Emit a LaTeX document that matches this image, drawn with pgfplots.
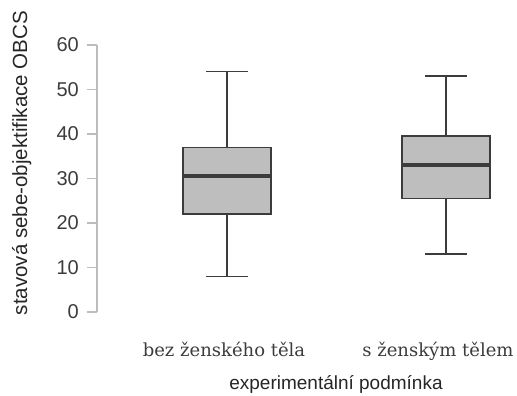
\documentclass[border=0pt]{standalone}
\usepackage{pgfplots}
\pgfplotsset{compat=1.18}
\usepgfplotslibrary{statistics}
\usepackage{fontspec}
\setmainfont{Liberation Sans}
\newfontfamily\labelserif{DejaVu Serif}

\definecolor{boxfill}{HTML}{BEBEBE}
\definecolor{boxedge}{HTML}{3C3C3C}
\definecolor{axisgray}{HTML}{BDBDBD}
\definecolor{ticktext}{HTML}{3C3C3C}

\begin{document}
\begin{tikzpicture}
\begin{axis}[
  at={(97pt,84pt)}, anchor=south west,
  scale only axis,
  width=420pt, height=267pt,
  xmin=0.406, xmax=2.324,
  ymin=0, ymax=60,
  axis y line*=left,
  axis x line*=bottom,
  axis line style={-},
  x axis line style={draw=none},
  y axis line style={draw=axisgray, line width=1.2pt},
  ytick={0,10,...,60},
  xtick={0.986,1.963},
  xticklabels={bez ženského těla, s ženským tělem},
  major x tick style={draw=none},
  major y tick style={draw=axisgray, line width=1.2pt},
  tick align=outside,
  major tick length=10pt,
  /pgf/number format/assume math mode=true,
  yticklabel style={font=\fontsize{20}{23}\selectfont, text=ticktext, anchor=east, inner sep=0pt, xshift=-8pt},
  xticklabel style={font=\labelserif\fontsize{18}{21}\selectfont, text=ticktext, anchor=base, inner sep=0pt, yshift=-35pt},
  ylabel={stavová sebe-objektifikace OBCS},
  ylabel style={font=\fontsize{20.5}{23}\selectfont, text=black!85, at={(axis description cs:-0.179,0.558)}, anchor=center, rotate=0},
  xlabel={experimentální podmínka},
  xlabel style={font=\fontsize{19}{22}\selectfont, text=black!85, at={(axis description cs:0.569,-0.29)}, anchor=base},
  clip=false,
  boxplot/draw direction=y,
]
% group without the female body
\addplot+[mark=none, draw=boxedge, fill=boxfill, line width=1.6pt, solid,
  boxplot prepared={
    lower whisker=8, lower quartile=22, median=30.5,
    upper quartile=37, upper whisker=54,
    draw position=1, box extend=0.4, whisker extend=0.19,
    every median/.style={line width=3.6pt}}]
  table[row sep=\\, y index=0] {y\\};
% group with the female body
\addplot+[mark=none, draw=boxedge, fill=boxfill, line width=1.6pt, solid,
  boxplot prepared={
    lower whisker=13, lower quartile=25.5, median=33,
    upper quartile=39.5, upper whisker=53,
    draw position=2, box extend=0.4, whisker extend=0.19,
    every median/.style={line width=3.6pt}}]
  table[row sep=\\, y index=0] {y\\};
\end{axis}
\pgfresetboundingbox
\path (0,0) rectangle (517pt,396pt);
\end{tikzpicture}
\end{document}
